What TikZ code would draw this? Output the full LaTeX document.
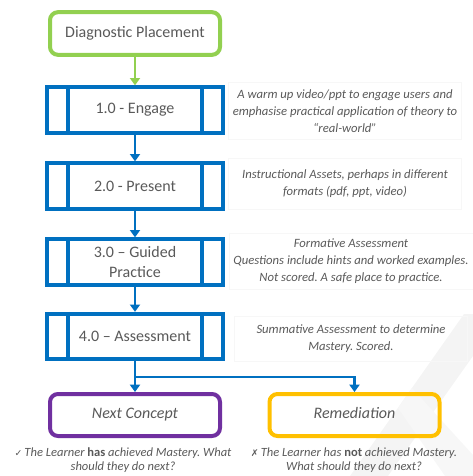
\documentclass[tikz,border=0pt]{standalone}
\usepackage{fontspec}
\setmainfont{Carlito}
\newfontfamily\symfont{DejaVu Sans}
\usetikzlibrary{arrows.meta}
\definecolor{boxblue}{HTML}{0070C0}
\definecolor{boxgreen}{HTML}{92D050}
\definecolor{boxpurple}{HTML}{7030A0}
\definecolor{boxgold}{HTML}{FFC000}
\definecolor{txtgray}{HTML}{595959}
\frenchspacing

\begin{document}
\begin{tikzpicture}[x=0.75pt,y=-0.75pt,
  boxfont/.style={font=\fontsize{12}{14.5}\selectfont},
  start/.style={boxfont,draw=boxgreen,line width=3pt,rounded corners=6pt,
    minimum width=127.5pt,minimum height=32pt,text=txtgray},
  proc/.style={boxfont,draw=boxblue,line width=3pt,minimum width=132pt,
    minimum height=34pt,align=center,text=txtgray},
  result/.style={line width=3pt,rounded corners=6pt,minimum width=127.5pt,
    minimum height=31.5pt,text height=1.6ex,text depth=0.45ex,text=txtgray,
    font=\fontsize{12}{14.5}\selectfont\itshape},
  note/.style={draw=gray!6,line width=0.6pt,minimum width=175pt,align=center,
    text=txtgray,font=\fontsize{9.5}{12.8}\selectfont\itshape},
  caption/.style={align=center,text=txtgray,font=\fontsize{9.4}{10.8}\selectfont\itshape},
  link/.style={draw=boxblue,line width=2.2pt,-{Triangle[width=7.5pt,length=5.5pt]}}]
  \useasboundingbox (0,0) rectangle (473,476);

  % watermark
  \fill[gray!9] (464,314) -- (473,314) -- (473,356) -- (388,476) -- (350,476) -- cycle;
  \fill[gray!6] (398,408) -- (412,388) -- (473,455) -- (473,476) -- (445,476) -- cycle;

  % flow
  \node[start] (diag) at (135,33.5) {Diagnostic Placement};
  \node[proc] (engage) at (135,110) {1.0 - Engage};
  \node[proc] (present) at (135,186) {2.0 - Present};
  \node[proc] (guided) at (135,262) {3.0 -- Guided\\Practice};
  \node[proc] (assess) at (135,336.5) {4.0 -- Assessment};
  \foreach \n in {engage,present,guided,assess} {
    \draw[boxblue,line width=3pt] ([xshift=17.25pt]\n.north west) -- ([xshift=17.25pt]\n.south west);
    \draw[boxblue,line width=3pt] ([xshift=-17.25pt]\n.north east) -- ([xshift=-17.25pt]\n.south east);
  }

  % outcomes
  \node[result,draw=boxpurple] (next) at (135,415) {Next Concept};
  \node[result,draw=boxgold] (remed) at (354.5,415) {Remediation};
  \coordinate (split) at (135,377);

  % notes
  \node[note,minimum height=43pt] (n1) at (345,111) {A warm up video/ppt to engage users and\\
    emphasise practical application of theory to\\``real-world''};
  \node[note,minimum height=38pt] (n2) at (345,184) {Instructional Assets, perhaps in different\\
    formats (pdf, ppt, video)};
  \node[note,minimum height=42pt] (n3) at (351,261) {Formative Assessment\\
    Questions include hints and worked examples.\\Not scored. A safe place to practice.};
  \node[note,minimum height=34pt] (n4) at (351,339) {Summative Assessment to determine\\
    Mastery. Scored.};

  \node[caption] (c1) at (123,460) {{\upshape\symfont\fontsize{7}{7}\selectfont ✓}\,The Learner
    \textbf{\upshape has} achieved Mastery. What\\should they do next?};
  \node[caption] (c2) at (354,460) {{\upshape\symfont\fontsize{7}{7}\selectfont ✗}\,The Learner has
    \textbf{\upshape not} achieved Mastery.\\What should they do next?};

  % arrows
  \draw[link,draw=boxgreen] (diag) -- (engage);
  \draw[link] (engage) -- (present);
  \draw[link] (present) -- (guided);
  \draw[link] (guided) -- (assess);
  \draw[link] (assess) -- (next);
  \draw[link] (split) -| (remed);
\end{tikzpicture}
\end{document}
